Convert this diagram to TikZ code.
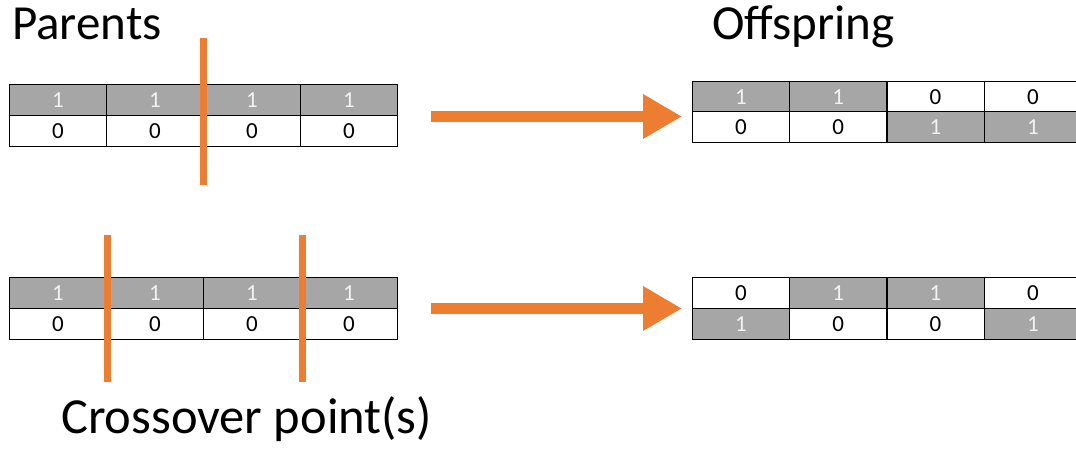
\documentclass[tikz,border=0pt]{standalone}
\usepackage{fontspec}
\setmainfont{Carlito}
\usetikzlibrary{arrows.meta}
\definecolor{cellgray}{HTML}{A6A6A6}
\definecolor{digitlight}{HTML}{F2F2F2}
\definecolor{cutorange}{HTML}{ED7D31}
\begin{document}
\begin{tikzpicture}[x=1pt,y=-1pt,
  bit/.style={draw=black, line width=0.9pt, minimum width=97pt, minimum height=30.7pt,
    inner sep=0pt, anchor=north west, font=\fontsize{23}{23}\selectfont},
  one/.style={bit, fill=cellgray, text=digitlight},
  zero/.style={bit, fill=white, text=black},
  cutline/.style={draw=cutorange, line width=7pt},
  move/.style={draw=cutorange, line width=11pt, -{Triangle[length=39pt,width=42pt]}},
  heading/.style={font=\fontsize{49}{49}\selectfont, anchor=base west, inner sep=0pt}]
\useasboundingbox (0,0) rectangle (1076,449);

% headings
\node[heading] (parents) at (12,40) {Parents};
\node[heading] (offspring) at (712,40) {Offspring};
\node[heading, font=\fontsize{50.5}{50.5}\selectfont] (crossover) at (61,433) {Crossover point(s)};

% parent chromosomes (upper pair: one cut point)
\foreach \i in {1,...,4}{
  \node[one]  (pa\i) at ({9+97*(\i-1)},84.5) {1};
  \node[zero] (pb\i) at ({9+97*(\i-1)},115.2) {0};
}
% parent chromosomes (lower pair: two cut points)
\foreach \i in {1,...,4}{
  \node[one]  (qa\i) at ({9+97*(\i-1)},277) {1};
  \node[zero] (qb\i) at ({9+97*(\i-1)},308) {0};
}

% offspring of the one-point crossover
\foreach \i/\t/\tv/\b/\bv in {1/one/1/zero/0,2/one/1/zero/0,3/zero/0/one/1,4/zero/0/one/1}{
  \node[\t] (oa\i) at ({692+97.3*(\i-1)},81) {\tv};
  \node[\b] (ob\i) at ({692+97.3*(\i-1)},111.2) {\bv};
}
% offspring of the two-point crossover
\foreach \i/\t/\tv/\b/\bv in {1/zero/0/one/1,2/one/1/zero/0,3/one/1/zero/0,4/zero/0/one/1}{
  \node[\t] (ra\i) at ({692+97.3*(\i-1)},277) {\tv};
  \node[\b] (rb\i) at ({692+97.3*(\i-1)},308) {\bv};
}

% crossover points
\coordinate (c1top) at (203.5,38);  \coordinate (c1bot) at (203.5,185);
\coordinate (c2top) at (107,235);   \coordinate (c2bot) at (107,382);
\coordinate (c3top) at (302,235);   \coordinate (c3bot) at (302,382);
\draw[cutline] (c1top) -- (c1bot);
\draw[cutline] (c2top) -- (c2bot);
\draw[cutline] (c3top) -- (c3bot);

% recombination arrows
\coordinate (m1s) at (431,116.5); \coordinate (m1e) at (682,116.5);
\coordinate (m2s) at (431,308.5); \coordinate (m2e) at (682,308.5);
\draw[move] (m1s) -- (m1e);
\draw[move] (m2s) -- (m2e);
\end{tikzpicture}
\end{document}
